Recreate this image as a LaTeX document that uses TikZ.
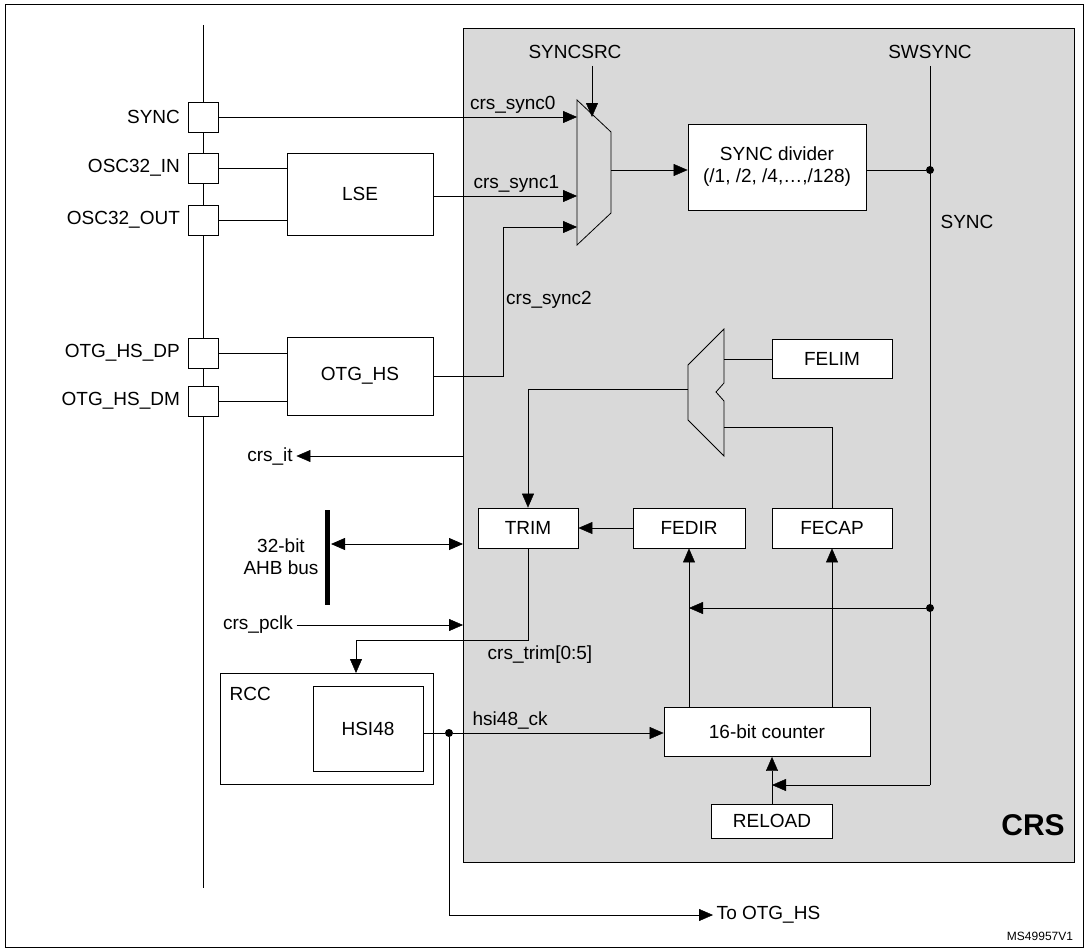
\documentclass[tikz,border=0pt]{standalone}
\usepackage{fontspec}
\setmainfont{Liberation Sans}
\usetikzlibrary{arrows.meta, positioning}

\tikzset{
    blk/.style={draw, thick, fill=white, font=\fontsize{19}{22}\selectfont},
    lbl/.style={font=\fontsize{19}{22}\selectfont},
    pin/.style={draw, thick, fill=white, minimum size=30pt, inner sep=0pt},
    sig/.style={thin, -{Triangle[length=14pt,width=12pt]}},
    dot/.style={circle, fill, inner sep=0pt, minimum size=8pt}
}

\begin{document}
\begin{tikzpicture}[x=1pt, y=-1pt, line width=0.8pt]
    \useasboundingbox (0,0) rectangle (1087,950);
    % Frame and CRS area
    \draw[thick] (5,4) rectangle (1083,947);
    \draw[thick, fill=black!15] (463,28) rectangle (1074,862);
    \draw[thick] (203,25) -- (203,888);

    % Pins
    \foreach \nm/\yy/\txt in {psync/117/SYNC, pin/168/OSC32\_IN, pout/220/OSC32\_OUT,
                                pdp/353/OTG\_HS\_DP, pdm/401/OTG\_HS\_DM}{
        \node[pin] (\nm) at (203,\yy) {};
        \node[lbl, left=4pt of \nm] {\txt};
    }

    % Blocks
    \node[blk, minimum width=146pt, minimum height=82pt] (lse) at (360,194) {LSE};
    \node[blk, minimum width=146pt, minimum height=78pt] (otg) at (360,376) {OTG\_HS};
    \node[blk, minimum width=178pt, minimum height=86pt, align=center] (div) at (777,167)
        {SYNC divider\\(/1, /2, /4,\dots,/128)};
    \node[blk, minimum width=120pt, minimum height=39pt] (felim) at (832,359) {FELIM};
    \node[blk, minimum width=100pt, minimum height=40pt] (trim) at (528,528) {TRIM};
    \node[blk, minimum width=112pt, minimum height=40pt] (fedir) at (689,528) {FEDIR};
    \node[blk, minimum width=120pt, minimum height=40pt] (fecap) at (832,528) {FECAP};
    \node[blk, minimum width=206pt, minimum height=49pt] (cnt) at (767,732) {16-bit counter};
    \node[blk, minimum width=121pt, minimum height=34pt] (reload) at (772,821) {RELOAD};
    \draw[thick] (220,673) rectangle (433,784);
    \node[lbl, anchor=north west] (rcc) at (226,683) {RCC};
    \node[blk, minimum width=110pt, minimum height=85pt] (hsi) at (368,729) {HSI48};

    % Muxes
    \draw[thick, fill=black!15] (577,100) -- (611,132) -- (611,213) -- (577,245) -- cycle;
    \draw[thick, fill=black!15] (688,365) -- (724,329) -- (724,383) -- (716,392) -- (724,401)
        -- (724,456) -- (688,420) -- cycle;
    \coordinate (m1) at (611,170);
    \coordinate (m2) at (688,389);

    % Pin connections
    \draw (pin.east) -- (pin.east -| lse.west);
    \draw (pout.east) -- (pout.east -| lse.west);
    \draw (pdp.east) -- (pdp.east -| otg.west);
    \draw (pdm.east) -- (pdm.east -| otg.west);

    % Sync inputs
    \draw[sig] (psync.east) -- (577,117) node[lbl, above left, pos=0.95] {crs\_sync0};
    \draw[sig] (lse.east |- 0,196) -- (577,196) node[lbl, above left, pos=0.9] {crs\_sync1};
    \draw[sig] (otg.east) -- (503,376) -- (503,227) -- (577,227);
    \node[lbl] (s2) at (549,300) {crs\_sync2};
    \node[lbl] (syncsrc) at (575,52) {SYNCSRC};
    \draw[sig] (592,66) -- (592,117);
    \draw[sig] (m1) -- (div.west |- m1);

    % SWSYNC line
    \node[lbl] (swsync) at (930,52) {SWSYNC};
    \draw (930,66) -- (930,785);
    \node[dot] (d1) at (930,170) {};
    \node[dot] (d2) at (930,608) {};
    \draw (div.east |- d1) -- (d1);
    \node[lbl] (synclbl) at (967,222) {SYNC};
    \draw[sig] (d2) -- (fedir.south |- d2);
    \draw[sig] (930,785) -- (reload.north |- 0,785);

    % Trim logic
    \draw (felim.west) -- (724,359);
    \draw[sig] (m2) -- (trim.north |- m2) -- (trim.north);
    \draw (724,427) -- (fecap.north |- 0,427) -- (fecap.north);
    \draw[sig] (fedir.west) -- (trim.east);
    \draw[sig] (cnt.north -| fedir.south) -- (fedir.south);
    \draw[sig] (cnt.north -| fecap.south) -- (fecap.south);
    \draw[sig] (reload.north) -- (cnt.south -| reload.north);

    % Bus side
    \node[lbl] (it) at (270,456) {crs\_it};
    \draw[sig] (463,456) -- (it.east);
    \draw[line width=5pt] (327,510) -- (327,605);
    \node[lbl, align=center] (ahb) at (281,557) {32-bit\\AHB bus};
    \draw[{Triangle[length=14pt,width=12pt]}-{Triangle[length=14pt,width=12pt]}, thick] (331,544) -- (463,544);
    \node[lbl] (pclk) at (258,625) {crs\_pclk};
    \draw[sig] (pclk.east) -- (463,625);
    \draw[sig] (trim.south) -- (trim.south |- 0,640) -- (356,640) -- (356,673);
    \node[lbl] (trimlbl) at (540,655) {crs\_trim[0:5]};

    % Clock output
    \node[dot] (d3) at (449,733) {};
    \draw (hsi.east |- d3) -- (d3);
    \draw[sig] (d3) -- (cnt.west |- d3) node[lbl, above, pos=0.27] {hsi48\_ck};
    \node[lbl, anchor=west] (toh) at (713,915) {To OTG\_HS};
    \draw[sig] (d3) -- (449,915) -- (toh.west);

    \node[font=\fontsize{30}{34}\selectfont\bfseries] (crs) at (1033,825) {CRS};
    \node[font=\fontsize{12}{14}\selectfont] (ms) at (1040,936) {MS49957V1};
\end{tikzpicture}
\end{document}
